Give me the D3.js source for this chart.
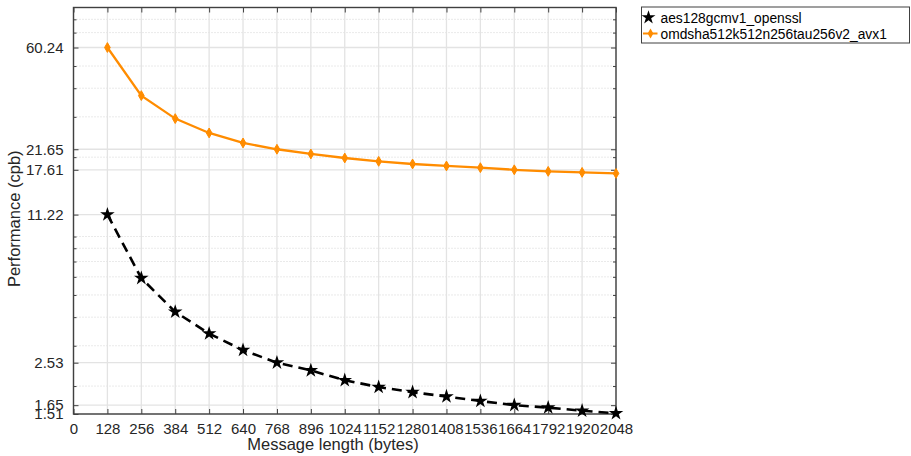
<!DOCTYPE html>
<html>
<head>
<meta charset="utf-8">
<script src="https://cdn.jsdelivr.net/npm/d3@7"></script>
<style>
  body { margin: 0; background: #fff; }
  svg { display: block; font-family: "Liberation Sans", Arial, Helvetica, sans-serif; }
</style>
</head>
<body>
<svg id="chart" width="911" height="456"></svg>
<script>
// message lengths (bytes)
const msgLen = [128, 256, 384, 512, 640, 768, 896, 1024, 1152, 1280, 1408, 1536, 1664, 1792, 1920, 2048];
const aesVals = [11.22, 5.92, 4.22, 3.39, 2.87, 2.53, 2.34, 2.12, 1.98, 1.88, 1.80, 1.72, 1.65, 1.61, 1.56, 1.52];
const omdVals = [60.24, 37.14, 29.47, 25.51, 23.07, 21.65, 20.65, 19.83, 19.17, 18.67, 18.30, 17.99, 17.61, 17.33, 17.16, 16.98];
const xTicks = d3.range(0, 2049, 128);
const yTicks = [1.51, 1.65, 2.53, 11.22, 17.61, 21.65, 60.24];
const yMinor = [2, 3, 4, 5, 6, 7, 8, 9, 20, 30, 40, 50, 70, 80];
const seriesNames = ["aes128gcmv1_openssl", "omdsha512k512n256tau256v2_avx1"];

const svg = d3.select("#chart");
const margin = {top: 7.5, right: 295, bottom: 42, left: 73.5};
const width = +svg.attr("width"), height = +svg.attr("height");
const innerW = width - margin.left - margin.right;
const innerH = height - margin.top - margin.bottom;

const x = d3.scaleLinear().domain([0, 2048]).range([0, innerW]);
const y = d3.scaleLog().domain([1.51, 90.1]).range([innerH, 0]);

const g = svg.append("g").attr("transform", `translate(${margin.left},${margin.top})`);

// grid
g.append("g").selectAll("line").data(yMinor).join("line")
  .attr("x1", 0).attr("x2", innerW)
  .attr("y1", d => y(d)).attr("y2", d => y(d))
  .attr("stroke", "#d4d4d4").attr("stroke-width", 1).attr("stroke-dasharray", "1,2");
g.append("g").selectAll("line").data(yTicks).join("line")
  .attr("x1", 0).attr("x2", innerW)
  .attr("y1", d => y(d)).attr("y2", d => y(d))
  .attr("stroke", "#e3e3e3").attr("stroke-width", 1.3);
g.append("g").selectAll("line").data(xTicks).join("line")
  .attr("x1", d => x(d)).attr("x2", d => x(d))
  .attr("y1", 0).attr("y2", innerH)
  .attr("stroke", "#e3e3e3").attr("stroke-width", 1.3);

// axes (ticks pointing inward)
const axisColor = "#404040";
const axBottom = g.append("g").attr("transform", `translate(0,${innerH})`)
  .call(d3.axisBottom(x).tickValues(xTicks).tickFormat(d3.format("d")).tickSize(-5).tickPadding(9).tickSizeOuter(0));
const axTop = g.append("g")
  .call(d3.axisTop(x).tickValues(xTicks).tickSize(-5).tickFormat("").tickSizeOuter(0));
const axLeft = g.append("g")
  .call(d3.axisLeft(y).tickValues(yTicks).tickFormat(d3.format(".2f")).tickSize(-5).tickPadding(10).tickSizeOuter(0));
const axRight = g.append("g").attr("transform", `translate(${innerW},0)`)
  .call(d3.axisRight(y).tickValues(yTicks).tickSize(-5).tickFormat("").tickSizeOuter(0));
const axLeftMinor = g.append("g")
  .call(d3.axisLeft(y).tickValues(yMinor).tickSize(-3).tickFormat("").tickSizeOuter(0));
const axRightMinor = g.append("g").attr("transform", `translate(${innerW},0)`)
  .call(d3.axisRight(y).tickValues(yMinor).tickSize(-3).tickFormat("").tickSizeOuter(0));

[axBottom, axTop, axLeft, axRight, axLeftMinor, axRightMinor].forEach(a => {
  a.select(".domain").remove();
  a.selectAll("line").attr("stroke", axisColor).attr("stroke-width", 1);
  a.selectAll("text").attr("fill", "#262626").style("font-size", "15px");
});

g.append("rect").attr("width", innerW).attr("height", innerH)
  .attr("fill", "none").attr("stroke", axisColor).attr("stroke-width", 1.4);

// lines
const line = d3.line().x(d => x(d[0])).y(d => y(d[1]));
const omd = msgLen.map((m, i) => [m, omdVals[i]]);
const aes = msgLen.map((m, i) => [m, aesVals[i]]);

g.append("path").datum(omd).attr("d", line)
  .attr("fill", "none").attr("stroke", "#ff8c00").attr("stroke-width", 2.3);
g.append("g").selectAll("path").data(omd).join("path")
  .attr("transform", d => `translate(${x(d[0])},${y(d[1])})`)
  .attr("d", d3.symbol(d3.symbolDiamond, 28))
  .attr("fill", "#ff8c00").attr("stroke", "#ff8c00").attr("stroke-width", 1);

g.append("path").datum(aes).attr("d", line)
  .attr("fill", "none").attr("stroke", "#000").attr("stroke-width", 2.6)
  .attr("stroke-dasharray", "10,6");
g.append("g").selectAll("path").data(aes).join("path")
  .attr("transform", d => `translate(${x(d[0])},${y(d[1])})`)
  .attr("d", d3.symbol(d3.symbolStar, 66))
  .attr("fill", "#000");

// axis labels
svg.append("text")
  .attr("x", 333).attr("y", 450)
  .attr("text-anchor", "middle").attr("fill", "#262626")
  .style("font-size", "16.5px")
  .text("Message length (bytes)");
svg.append("text")
  .attr("transform", `translate(20,${margin.top + innerH / 2 + 8}) rotate(-90)`)
  .attr("text-anchor", "middle").attr("fill", "#262626")
  .style("font-size", "16.5px")
  .text("Performance (cpb)");

// legend
const lg = svg.append("g").attr("transform", "translate(641.5,7)");
lg.append("rect").attr("width", 268).attr("height", 36)
  .attr("fill", "#fff").attr("stroke", axisColor).attr("stroke-width", 1);
lg.append("path").attr("transform", "translate(7,10.5)")
  .attr("d", d3.symbol(d3.symbolStar, 60)).attr("fill", "#000");
lg.append("line").attr("x1", 1.5).attr("x2", 16).attr("y1", 26.5).attr("y2", 26.5)
  .attr("stroke", "#ff8c00").attr("stroke-width", 2);
lg.append("path").attr("transform", "translate(9,26.5)")
  .attr("d", d3.symbol(d3.symbolDiamond, 28)).attr("fill", "#ff8c00");
lg.selectAll("text.leg").data(seriesNames).join("text")
  .attr("class", "leg")
  .attr("x", 19).attr("y", (d, i) => 15.5 + i * 16)
  .attr("fill", "#000").style("font-size", "13.8px")
  .text(d => d);
</script>
</body>
</html>
